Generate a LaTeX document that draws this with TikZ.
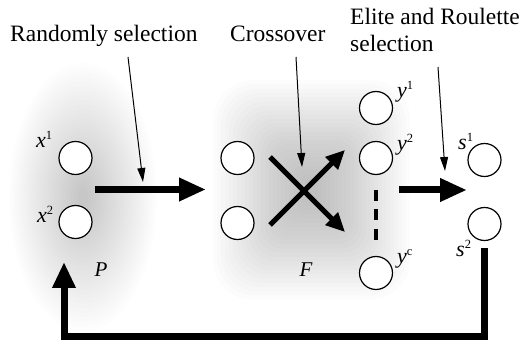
\documentclass[tikz,border=0pt]{standalone}
\usepackage{fontspec}
\setmainfont{Liberation Serif}
\usetikzlibrary{arrows.meta,shapes.geometric}
\newcommand{\suplabel}[2]{{\fontsize{22}{22}\selectfont\textit{#1}}\raisebox{8.5pt}{\fontsize{12.5}{12.5}\selectfont #2}}
\begin{document}
\begin{tikzpicture}[x=1pt,y=-1pt,
  member/.style={draw,line width=1.2pt,fill=white,circle,minimum size=33pt,inner sep=0pt},
  title/.style={font=\fontsize{23.5}{27}\selectfont,anchor=base west,inner sep=0pt},
  lbl/.style={anchor=base west,inner sep=0pt},
  setname/.style={font=\fontsize{21}{21}\selectfont\itshape,anchor=base,inner sep=0pt},
  fat/.style={line width=7pt,-{Triangle[length=27pt,width=22pt]}},
  crossarrow/.style={line width=5pt,-{Triangle[length=19pt,width=17pt]}},
  pointer/.style={line width=1pt,-{Triangle[length=14pt,width=8pt]}},
  feedback/.style={line width=7pt,line join=miter,-{Triangle[length=26pt,width=22pt]}}]
\useasboundingbox (0,0) rectangle (525,347);

% soft grey halo behind the population P
\foreach \i in {0,...,27} {
  \fill[black,opacity=0.0085] (83,197) ellipse [x radius={74-\i*2.55}, y radius={134-\i*4.6}];
}
% soft grey halo behind the offspring F
\foreach \i in {0,...,23} {
  \pgfmathsetmacro{\rc}{40-\i*1.6}
  \fill[black,opacity=0.0105,rounded corners=\rc pt]
    ({213+\i*4},{80+\i*4.3}) rectangle ({410-\i*4},{300-\i*4.3});
}

% titles
\node[title] (trand) at (10,42) {Randomly selection};
\node[title] (tcross) at (230,42) {Crossover};
\node[title] (telite) at (350,25) {Elite and Roulette};
\node[title] (tsel) at (350,52) {selection};

% individuals
\node[member] (x1) at (75.5,158) {};
\node[member] (x2) at (75.5,222) {};
\node[member] (f1) at (237.5,158) {};
\node[member] (f2) at (237.5,223) {};
\node[member] (y1) at (376,108) {};
\node[member] (y2) at (376,158) {};
\node[member] (yc) at (376,273) {};
\node[member] (s1) at (484.5,160) {};
\node[member] (s2) at (484.5,224) {};

% labels
\node[lbl] (lx1) at (36,148) {\suplabel{x}{1}};
\node[lbl] (lx2) at (37,223) {\suplabel{x}{2}};
\node[lbl] (ly1) at (397,98) {\suplabel{y}{1}};
\node[lbl] (ly2) at (397,151) {\suplabel{y}{2}};
\node[lbl] (lyc) at (397,264) {\suplabel{y}{c}};
\node[lbl] (ls1) at (458,150) {\suplabel{s}{1}};
\node[lbl] (ls2) at (456,257) {\suplabel{s}{2}};
\node[setname] (lP) at (101,277) {P};
\node[setname] (lF) at (306,277) {F};

% main flow arrows
\coordinate (selA) at (95,189.5);
\coordinate (selB) at (206,189.5);
\draw[fat] (selA) -- (selB);
\coordinate (eliA) at (399,190);
\coordinate (eliB) at (467,190);
\draw[fat] (eliA) -- (eliB);

% crossover
\coordinate (cUL) at (270,157);
\coordinate (cLL) at (270,225);
\coordinate (cUR) at (345,150);
\coordinate (cLR) at (345,232);
\draw[crossarrow] (cUL) -- (cLR);
\draw[crossarrow] (cLL) -- (cUR);

% further offspring
\coordinate (dotA) at (376,190);
\coordinate (dotB) at (376,240);
\draw[line width=4pt,dash pattern=on 11pt off 8.5pt] (dotA) -- (dotB);

% pointers from the titles
\coordinate (pr1) at (128,57);
\coordinate (pr2) at (143,182);
\draw[pointer] (pr1) -- (pr2);
\coordinate (pc1) at (296,57);
\coordinate (pc2) at (302,167);
\draw[pointer] (pc1) -- (pc2);
\coordinate (pe1) at (438,67);
\coordinate (pe2) at (445,171);
\draw[pointer] (pe1) -- (pe2);

% feedback to the population
\coordinate (fbC) at (64,337);
\coordinate (fbT) at (64,262);
\draw[feedback] ([yshift=-7pt]s2.south) -- (s2.south |- fbC) -- (fbC) -- (fbT);
\end{tikzpicture}
\end{document}
